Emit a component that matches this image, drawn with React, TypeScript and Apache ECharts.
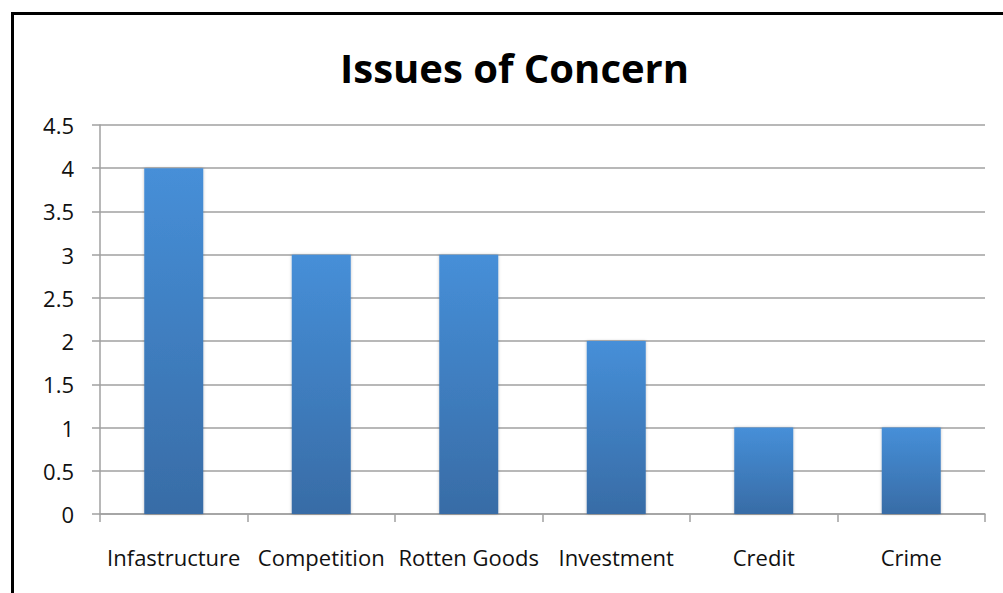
import React, { useEffect, useRef } from "react";
import * as echarts from "echarts";

const categories = ["Infastructure", "Competition", "Rotten Goods", "Investment", "Credit", "Crime"];
const values = [4, 3, 3, 2, 1, 1];
const titleText = "Issues of Concern";

export default function App() {
  const ref = useRef<HTMLDivElement>(null);
  useEffect(() => {
    document.body.style.margin = "0";
    const chart = echarts.init(ref.current!, null, { renderer: "svg" });
    chart.setOption({
      animation: false,
      backgroundColor: "#ffffff",
      title: {
        text: titleText,
        left: 340,
        top: 47,
        padding: 0,
        textStyle: { fontFamily: "Open Sans", fontWeight: "bold", fontSize: 40, color: "#000" },
      },
      graphic: [
        {
          type: "rect",
          shape: { x: 12.5, y: 13.5, width: 1100, height: 700 },
          style: { fill: "none", stroke: "#000", lineWidth: 3 },
          silent: true,
        },
      ],
      grid: { left: 100, right: 18, top: 125, bottom: 79 },
      xAxis: {
        type: "category",
        data: categories,
        axisLine: { lineStyle: { color: "#a0a0a0", width: 1.5 } },
        axisTick: { show: true, length: 8, lineStyle: { color: "#a0a0a0", width: 1.5 } },
        axisLabel: { fontFamily: "Open Sans", fontSize: 22, color: "#111", margin: 32, interval: 0 },
      },
      yAxis: {
        type: "value",
        min: 0,
        max: 4.5,
        interval: 0.5,
        axisLine: { show: true, lineStyle: { color: "#a0a0a0", width: 1.5 } },
        axisTick: { show: true, length: 8, lineStyle: { color: "#a0a0a0", width: 1.5 } },
        splitLine: { lineStyle: { color: "#a0a0a0", width: 1.5 } },
        axisLabel: { fontFamily: "Open Sans", fontSize: 22, color: "#111", margin: 26 },
      },
      series: [
        {
          type: "bar",
          data: values,
          barWidth: "40%",
          itemStyle: {
            color: new echarts.graphic.LinearGradient(0, 0, 0, 1, [
              { offset: 0, color: "#468fd8" },
              { offset: 1, color: "#386ca6" },
            ]),
            shadowColor: "rgba(0,0,0,0.25)",
            shadowBlur: 3,
          },
        },
      ],
    });
    return () => chart.dispose();
  }, []);
  return <div ref={ref} style={{ width: 1003, height: 593 }} />;
}
